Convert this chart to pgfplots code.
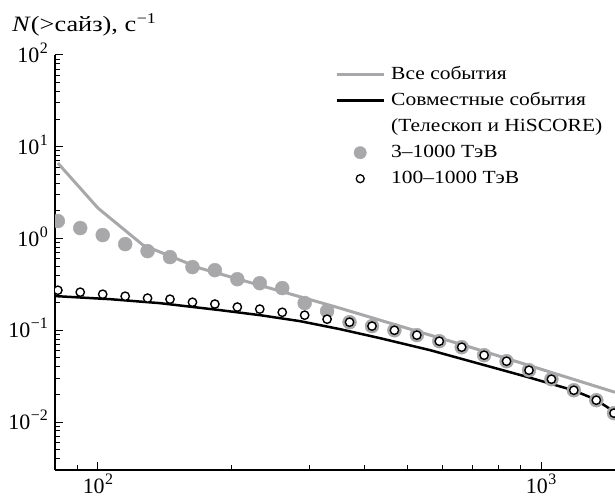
\documentclass[border=0pt]{standalone}
\usepackage{fontspec}
\setmainfont{Liberation Serif}
\newfontfamily\legfont[FakeStretch=1.16]{Liberation Serif}
\newfontfamily\labfont[FakeStretch=1.2]{Liberation Serif}
\usepackage{pgfplots}
\pgfplotsset{compat=1.18}
\definecolor{lgray}{RGB}{168,168,170}
\newcommand\sups[1]{\kern0.5pt\raisebox{9bp}{\fontsize{16}{16}\selectfont #1}}
\pgfplotsset{
  lineleg/.style={legend image code/.code={\draw[##1] (0pt,0pt) -- (47bp,0pt);}},
  markleg/.style={legend image code/.code={\path (0pt,0pt) (47bp,0pt); \draw[##1] plot coordinates {(23.5bp,0pt)};}},
}

\begin{document}
\begin{tikzpicture}
\begin{axis}[
  xmode=log, ymode=log,
  scale only axis, width=560bp, height=415bp,
  xmin=80, xmax=1468, ymin=3e-3, ymax=100,
  axis x line=bottom, axis y line=left,
  axis line style={line width=1.1pt, -},
  clip marker paths=true,
  xtick={100,1000},
  xticklabels={10\sups{2}, 10\sups{3}},
  minor xtick={80,90,200,300,400,500,600,700,800,900},
  ytick={0.01,0.1,1,10,100},
  yticklabels={10\sups{−2}, 10\sups{−1}, 10\sups{0}, 10\sups{1}, 10\sups{2}},
  minor ytick={3e-3,4e-3,5e-3,6e-3,7e-3,8e-3,9e-3,
    0.02,0.03,0.04,0.05,0.06,0.07,0.08,0.09,
    0.2,0.3,0.4,0.5,0.6,0.7,0.8,0.9,
    2,3,4,5,6,7,8,9,20,30,40,50,60,70,80,90},
  tick align=inside,
  major tick length=8bp, minor tick length=5bp,
  tick style={line width=1pt, black},
  ticklabel style={font=\fontsize{22}{24}\selectfont, inner sep=0pt},
  xticklabel style={anchor=north, yshift=-4bp},
  yticklabel style={anchor=base east, xshift=-7bp, yshift=-7.5bp},
  legend cell align=left,
  legend style={at={(rel axis cs:0.5,0.9735)}, anchor=north west,
    draw=none, fill=none, inner sep=0pt, row sep=9bp,
    font=\legfont\fontsize{18.6}{22}\selectfont,
    nodes={inner sep=0pt, text height=13bp, text depth=4bp},
    /tikz/every odd column/.append style={column sep=6bp}},
]
\coordinate (O) at (rel axis cs:0,0);
% legend entries
\addlegendimage{lgray, line width=3pt, lineleg}
\addlegendentry{Все события}
\addlegendimage{black, line width=2.5pt, lineleg}
\addlegendentry{Совместные события}
\addlegendimage{empty legend}
\addlegendentry{(Телескоп и HiSCORE)}
\addlegendimage{only marks, mark=*, mark size=6.2pt, mark options={draw=lgray, fill=lgray}, markleg}
\addlegendentry{3–1000 ТэВ}
\addlegendimage{only marks, mark=*, mark size=4pt, mark options={draw=black, fill=white, line width=1.3pt}, markleg}
\addlegendentry{100–1000 ТэВ}

% all events
\addplot[lgray, line width=3pt, forget plot] coordinates {
  (81.2,6.64) (100,2.145) (126.4,0.847) (169.9,0.475) (351.8,0.174) (692,0.0655) (1468,0.0211)
};
% coincident events
\addplot[black, line width=2.5pt, forget plot] coordinates {
  (80.4,0.2355) (106.4,0.2183) (138.0,0.1975) (188.6,0.1657) (232.1,0.1461) (285.8,0.1257)
  (351.8,0.1028) (433.0,0.0820) (561.6,0.0607) (691.6,0.0460) (934.9,0.0308) (1181,0.0222)
  (1324,0.0177) (1468,0.0128)
};
% 3-1000 TeV
\addplot[only marks, mark=*, mark size=7pt, mark options={draw=lgray, fill=lgray}, forget plot] coordinates {
  (81.2,1.55) (91.2,1.30) (102.5,1.09) (115.2,0.869) (129.4,0.729) (145.4,0.627)
  (163.4,0.488) (183.6,0.452) (206.3,0.360) (231.8,0.326) (260.5,0.288) (292.7,0.198)
  (328.9,0.162) (369.6,0.1225) (415.3,0.111) (466.6,0.100) (524.3,0.0885) (589.1,0.0760)
  (661.9,0.0654) (743.7,0.0535) (835.6,0.0460) (938.9,0.0367) (1055,0.0293) (1185,0.0222)
  (1332,0.0173) (1460,0.0125)
};
% 100-1000 TeV
\addplot[only marks, mark=*, mark size=4.2pt, mark options={draw=black, fill=white, line width=1.4pt}, forget plot] coordinates {
  (81.2,0.273) (91.2,0.260) (102.5,0.247) (115.2,0.235) (129.4,0.224) (145.4,0.218)
  (163.4,0.202) (183.6,0.193) (206.3,0.179) (231.8,0.170) (260.5,0.157) (292.7,0.146)
  (328.9,0.132) (369.6,0.1225) (415.3,0.111) (466.6,0.100) (524.3,0.0885) (589.1,0.0760)
  (661.9,0.0654) (743.7,0.0535) (835.6,0.0460) (938.9,0.0367) (1055,0.0293) (1185,0.0222)
  (1332,0.0173) (1460,0.0125)
};
\end{axis}
\node[anchor=base west, inner sep=0pt, font=\labfont\fontsize{22}{24}\selectfont]
  at ([shift={(-43bp,438bp)}]O) {\textit{N}(>сайз), с\kern0.5pt\raisebox{8bp}{\fontsize{15}{15}\selectfont −1}};
\pgfresetboundingbox
\path ([shift={(-55bp,-29bp)}]O) rectangle ([shift={(560bp,470bp)}]O);
\end{tikzpicture}
\end{document}
